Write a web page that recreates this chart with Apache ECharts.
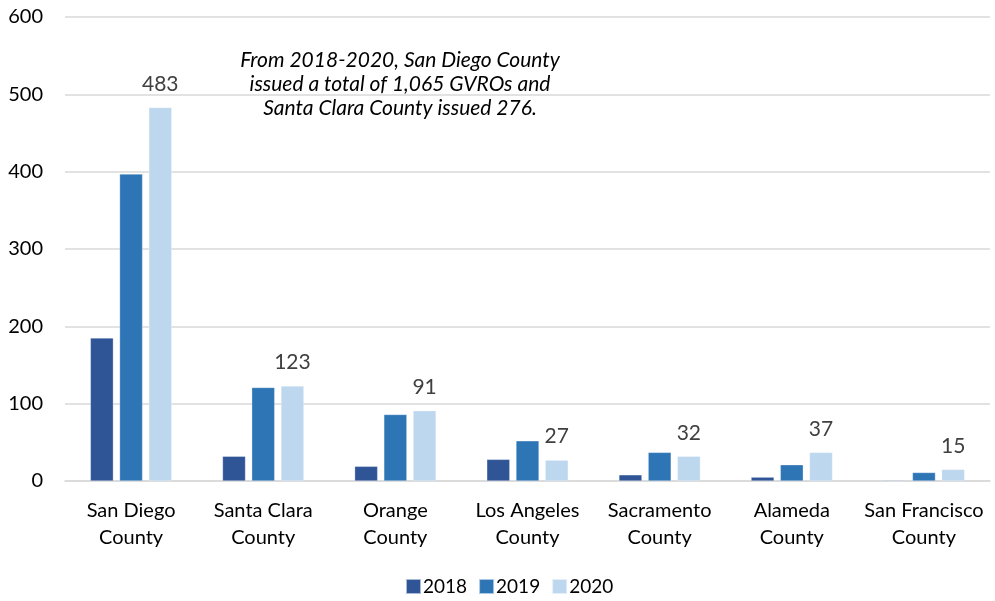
<!DOCTYPE html>
<html><head><meta charset="utf-8">
<script src="https://cdn.jsdelivr.net/npm/echarts@6/dist/echarts.min.js"></script>
<style>html,body{margin:0;padding:0;background:#fff}#c{width:995px;height:601px}</style>
</head><body><div id="c"></div>
<script>
const categories = ["San Diego\nCounty","Santa Clara\nCounty","Orange\nCounty","Los Angeles\nCounty","Sacramento\nCounty","Alameda\nCounty","San Francisco\nCounty"];
const years = ["2018","2019","2020"];
const v2018 = [185, 32, 19, 28, 8, 5, 1];
const v2019 = [397, 121, 86, 52, 37, 21, 11];
const v2020 = [483, 123, 91, 27, 32, 37, 15];
const yTicks = [0, 100, 200, 300, 400, 500, 600];
const noteLines = ["From 2018-2020, San Diego County", "issued a total of 1,065 GVROs and", "Santa Clara County issued 276."];
const colors = ["#2F5597", "#2E75B6", "#BDD7EE"];
const FONT = "Lato";

const chart = echarts.init(document.getElementById('c'), null, {renderer: 'canvas'});
function bar(name, data, color, showLabel) {
  return {
    name, type: 'bar', data, barWidth: 23, barGap: '27%',
    itemStyle: {color, borderColor: 'rgba(255,255,255,0.6)', borderWidth: 0.5},
    label: {show: showLabel, position: 'top', distance: 13, color: '#404040', fontSize: 21, fontFamily: FONT},
    emphasis: {disabled: true}
  };
}
chart.setOption({
  animation: false,
  textStyle: {fontFamily: FONT},
  grid: {left: 65, right: 5, top: 17, bottom: 120, containLabel: false},
  legend: {
    data: years, bottom: 0, left: 400, itemWidth: 15, itemHeight: 15, itemGap: 11,
    icon: 'rect', textStyle: {fontSize: 19, color: '#000', fontFamily: FONT, padding: [0, 0, 0, -3]}
  },
  xAxis: {
    type: 'category', data: categories,
    axisLine: {lineStyle: {color: '#d9d9d9', width: 1.5}},
    axisTick: {show: false},
    axisLabel: {fontSize: 20, color: '#000', lineHeight: 27, margin: 16, fontFamily: FONT, interval: 0}
  },
  yAxis: {
    type: 'value', min: yTicks[0], max: yTicks[yTicks.length-1], interval: 100,
    axisLine: {show: false}, axisTick: {show: false},
    splitLine: {lineStyle: {color: '#d9d9d9', width: 1.5}},
    axisLabel: {fontSize: 20, color: '#000', margin: 22, fontFamily: FONT}
  },
  graphic: noteLines.map((t, i) => ({
    type: 'text', x: 400, y: 60 + i * 24,
    style: {text: t, fontSize: 21, fontStyle: 'italic', fill: '#000', align: 'center', verticalAlign: 'middle', fontFamily: FONT}
  })),
  series: [bar(years[0], v2018, colors[0], false), bar(years[1], v2019, colors[1], false), bar(years[2], v2020, colors[2], true)]
});
</script></body></html>
